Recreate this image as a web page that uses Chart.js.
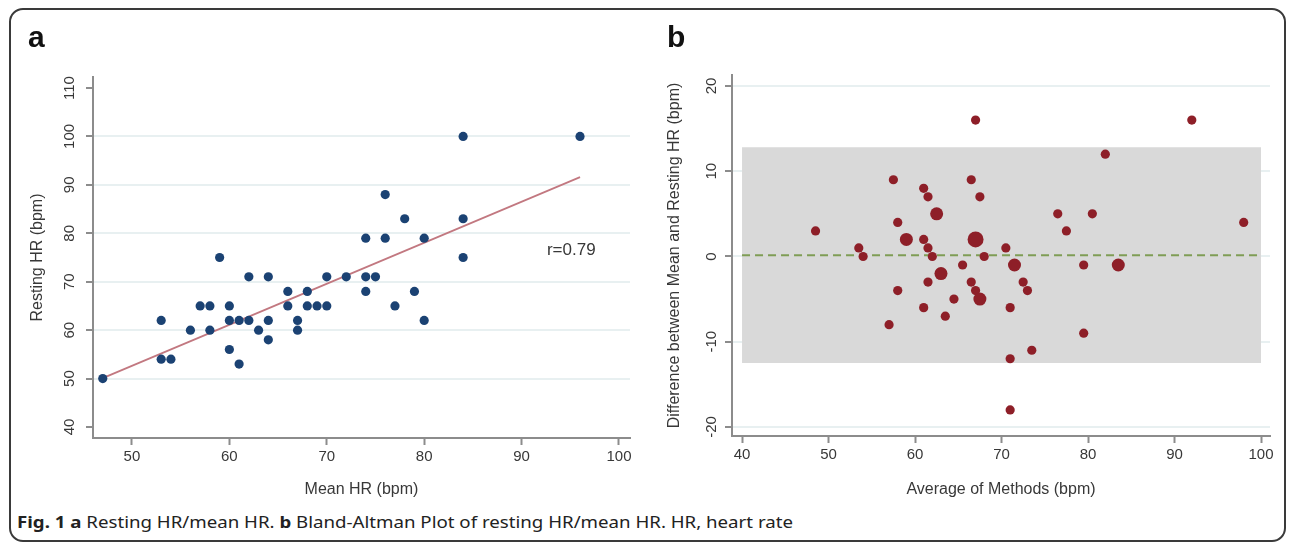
<!DOCTYPE html>
<html>
<head>
<meta charset="utf-8">
<script src="https://cdn.jsdelivr.net/npm/chart.js@4.4.1/dist/chart.umd.min.js"></script>
<style>
body { margin:0; background:#fff; width:1292px; height:546px; overflow:hidden; position:relative; font-family:"Liberation Sans", Arial, sans-serif; }
#frame { position:absolute; left:9px; top:8px; width:1277px; height:534px; border:2px solid #3a3a3a; border-radius:14px; box-sizing:border-box; }
#chartA { position:absolute; left:0; top:0; }
#chartB { position:absolute; left:650px; top:0; }
.lbl { position:absolute; font:bold 30px "Liberation Sans", Arial, sans-serif; line-height:30px; color:#111; }
#caption { position:absolute; left:17px; top:512px; font-size:16px; line-height:20px; font-family:"Noto Sans", sans-serif; color:#222; white-space:nowrap; transform-origin:0 0; }
</style>
</head>
<body>
<div id="frame"></div>
<canvas id="chartA" width="650" height="500"></canvas>
<canvas id="chartB" width="642" height="500"></canvas>
<div class="lbl" style="left:28px; top:22px;">a</div>
<div class="lbl" style="left:667px; top:22px;">b</div>
<div id="caption"><b>Fig. 1</b> <b>a</b> Resting HR/mean HR. <b>b</b> Bland-Altman Plot of resting HR/mean HR. HR, heart rate</div>
<script>
// panel a: resting HR against mean HR
var meanHR =    [47,53,53,54,56,57,58,58,59,60,60,60,61,61,62,62,63,64,64,64,66,66,67,67,68,68,69,70,70,72,74,74,74,75,76,76,77,78,79,80,80,84,84,84,96];
var restingHR = [50,62,54,54,60,65,65,60,75,65,62,56,62,53,71,62,60,71,62,58,68,65,62,60,68,65,65,71,65,71,79,71,68,71,88,79,65,83,68,79,62,100,83,75,100];
var fitX = [47, 96];
var fitY = [50.1, 91.6];
var rText = 'r=0.79';
var aXTicks = [50, 60, 70, 80, 90, 100];
var aYTicks = [40, 50, 60, 70, 80, 90, 100, 110];

// panel b: Bland-Altman
var avgHR =  [48.5,53.5,54,57,57.5,58,58,59,61,61,61,61.5,61.5,61.5,62,62.5,63,63.5,64.5,65.5,66.5,66.5,67,67,67,67.5,67.5,68,70.5,71,71,71,71.5,72.5,73,73.5,76.5,77.5,79.5,79.5,80.5,82,83.5,92,98];
var diffHR = [3,1,0,-8,9,4,-4,2,8,2,-6,7,1,-3,0,5,-2,-7,-5,-1,9,-3,16,2,-4,7,-5,0,1,-6,-12,-18,-1,-3,-4,-11,5,3,-1,-9,5,12,-1,16,4];
var nObs =   [1,1,1,1,1,1,1,2,1,1,1,1,1,1,1,2,2,1,1,1,1,1,1,3,1,1,2,1,1,1,1,1,2,1,1,1,1,1,1,1,1,1,2,1,1];
var meanDiff = 0.15;
var upperLoA = 12.8;
var lowerLoA = -12.5;
var bXTicks = [40, 50, 60, 70, 80, 90, 100];
var bYTicks = [-20, -10, 0, 10, 20];

var fontFam = '"Liberation Sans", Arial, sans-serif';
var textCol = '#383838';
var axisGray = '#8c8c8c';
var gridBlue = '#e8f0f1';

function yLabels(ticks, xPos) {
    return {
        id: 'ylabels',
        afterDraw: function (chart) {
            var ctx = chart.ctx;
            var y = chart.scales.y;
            ctx.save();
            ctx.font = '15px ' + fontFam;
            ctx.fillStyle = textCol;
            ctx.textAlign = 'center';
            ctx.textBaseline = 'middle';
            ticks.forEach(function (v) {
                ctx.save();
                ctx.translate(xPos, y.getPixelForValue(v));
                ctx.rotate(-Math.PI / 2);
                ctx.fillText(String(v), 0, 0);
                ctx.restore();
            });
            ctx.restore();
        }
    };
}

function xScale(min, max, ticks, title, h) {
    return {
        type: 'linear', min: min, max: max,
        afterBuildTicks: function (s) { s.ticks = ticks.map(function (v) { return { value: v }; }); },
        afterFit: function (s) { s.height = h; },
        ticks: { font: { family: fontFam, size: 15 }, color: textCol, padding: 3, maxRotation: 0, autoSkip: false },
        grid: { drawOnChartArea: false, tickLength: 7, tickColor: axisGray, tickWidth: 2 },
        border: { color: axisGray, width: 2 },
        title: { display: true, text: title, font: { family: fontFam, size: 16 }, color: textCol, padding: { top: 0, bottom: 1 } }
    };
}

function yScale(min, max, ticks, title, w, titlePad, skip) {
    return {
        type: 'linear', min: min, max: max,
        afterBuildTicks: function (s) { s.ticks = ticks.map(function (v) { return { value: v }; }); },
        afterFit: function (s) { s.width = w; },
        ticks: { display: false },
        grid: {
            color: function (c) { return (c.tick && skip.indexOf(c.tick.value) >= 0) ? 'rgba(0,0,0,0)' : gridBlue; },
            lineWidth: 2, tickLength: 7, tickColor: axisGray, tickWidth: 2
        },
        border: { color: axisGray, width: 2 },
        title: { display: true, text: title, font: { family: fontFam, size: 16 }, color: textCol, padding: { top: titlePad, bottom: 0 } }
    };
}

var rLabel = {
    id: 'rlabel',
    afterDatasetsDraw: function (chart) {
        var ctx = chart.ctx;
        ctx.save();
        ctx.font = '17px ' + fontFam;
        ctx.fillStyle = textCol;
        ctx.textAlign = 'center';
        ctx.textBaseline = 'middle';
        ctx.fillText(rText, chart.scales.x.getPixelForValue(95.1), chart.scales.y.getPixelForValue(76.5));
        ctx.restore();
    }
};

new Chart(document.getElementById('chartA'), {
    type: 'scatter',
    data: {
        datasets: [{
            data: meanHR.map(function (x, i) { return { x: x, y: restingHR[i] }; }),
            backgroundColor: '#1b4273',
            borderWidth: 0,
            pointRadius: 4.6,
            order: 0
        }, {
            type: 'line',
            data: fitX.map(function (x, i) { return { x: x, y: fitY[i] }; }),
            borderColor: '#c27880',
            borderWidth: 1.7,
            pointRadius: 0,
            fill: false,
            order: 1
        }]
    },
    options: {
        responsive: false, animation: false, devicePixelRatio: 1,
        layout: { padding: { left: 0, right: 20, top: 77, bottom: 0 } },
        plugins: { legend: { display: false }, tooltip: { enabled: false } },
        scales: {
            x: xScale(46, 101.13, aXTicks, 'Mean HR (bpm)', 62),
            y: yScale(37.73, 112.27, aYTicks, 'Resting HR (bpm)', 93, 28, [40, 110])
        }
    },
    plugins: [yLabels(aYTicks, 70), rLabel]
});

new Chart(document.getElementById('chartB'), {
    type: 'scatter',
    data: {
        datasets: [{
            data: avgHR.map(function (x, i) { return { x: x, y: diffHR[i] }; }),
            backgroundColor: '#8e1f28',
            borderWidth: 0,
            pointRadius: function (c) { return 4.6 * Math.sqrt(nObs[c.dataIndex] || 1); },
            order: 0
        }, {
            type: 'line',
            data: [{ x: 40, y: meanDiff }, { x: 100, y: meanDiff }],
            borderColor: '#7f9d55',
            borderWidth: 2,
            borderDash: [8, 5],
            pointRadius: 0,
            fill: false,
            order: 2
        }, {
            type: 'line',
            data: [{ x: 40, y: upperLoA }, { x: 100, y: upperLoA }],
            borderWidth: 0,
            borderColor: 'rgba(0,0,0,0)',
            backgroundColor: '#d9d9d9',
            pointRadius: 0,
            fill: { target: { value: lowerLoA } },
            order: 3
        }]
    },
    options: {
        responsive: false, animation: false, devicePixelRatio: 1,
        layout: { padding: { left: 0, right: 22, top: 75, bottom: 0 } },
        plugins: { legend: { display: false }, tooltip: { enabled: false } },
        scales: {
            x: xScale(38.84, 101.04, bXTicks, 'Average of Methods (bpm)', 64),
            y: yScale(-21.06, 21.29, bYTicks, 'Difference between Mean and Resting HR (bpm)', 82, 15, [])
        }
    },
    plugins: [yLabels(bYTicks, 62)]
});

var cap = document.getElementById('caption');
cap.style.transform = 'scaleX(' + (776 / cap.offsetWidth) + ')';
</script>
</body>
</html>
